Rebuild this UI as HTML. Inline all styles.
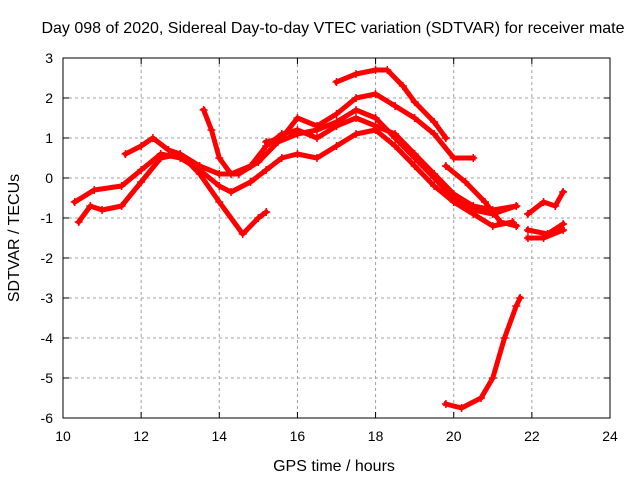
<!DOCTYPE html>
<html><head><meta charset="utf-8"><style>
body{margin:0;background:#fff;}
svg{display:block;font-family:"Liberation Sans",sans-serif;}
</style></head><body>
<svg id="chart" width="640" height="480">
<rect width="640" height="480" fill="#fff"/>
<text x="333" y="33" text-anchor="middle" font-size="16">Day 098 of 2020, Sidereal Day-to-day VTEC variation (SDTVAR) for receiver mate</text>
<text x="334" y="471" text-anchor="middle" font-size="16">GPS time / hours</text>
<text transform="translate(19,238) rotate(-90)" text-anchor="middle" font-size="16">SDTVAR / TECUs</text>
<g id="grid"></g><g id="series"></g>
<rect x="63" y="58" width="547" height="360" fill="none" stroke="#000" stroke-width="1"/>
</svg>
<script>
const xTicks=[10,12,14,16,18,20,22,24];
const yTicks=[3,2,1,0,-1,-2,-3,-4,-5,-6];
const trackA=[[10.4,-1.1],[10.7,-0.7],[11,-0.8],[11.5,-0.7],[12,-0.1],[12.5,0.5],[13,0.6],[13.5,0.1],[14,-0.6],[14.6,-1.4],[15,-1.0],[15.2,-0.85]];
const trackB=[[10.3,-0.6],[10.8,-0.3],[11.5,-0.2],[12,0.2],[12.5,0.6],[13,0.5],[13.5,0.2],[14,-0.2],[14.3,-0.35],[14.8,-0.1],[15.2,0.2],[15.6,0.5],[16,0.6],[16.5,0.5],[17,0.8],[17.5,1.1],[18,1.2],[18.5,0.8],[19,0.3],[19.5,-0.2],[20,-0.6],[20.5,-0.9],[21,-1.2],[21.5,-1.1]];
const trackC=[[11.6,0.6],[12,0.8],[12.3,1.0],[12.7,0.7],[13,0.6],[13.5,0.3],[14,0.1],[14.5,0.1],[15,0.4],[15.5,0.9],[16,1.1],[16.5,1.2],[17,1.4],[17.5,1.7],[18,1.5],[18.5,1.0],[19,0.5],[19.5,0],[20,-0.5],[20.5,-0.8],[21,-0.9],[21.6,-0.7]];
const trackD=[[13.6,1.7],[13.8,1.2],[14,0.5],[14.3,0.1],[14.8,0.3],[15.2,0.8],[15.6,1.1],[16,1.2],[16.5,1.0],[17,1.3],[17.5,1.5],[18,1.3],[18.5,1.1],[19,0.6],[19.5,0.1],[20,-0.4],[20.5,-0.7],[21,-0.8],[21.6,-0.7]];
const trackE=[[15.2,0.9],[15.6,1.0],[16,1.5],[16.5,1.3],[17,1.6],[17.5,2.0],[18,2.1],[18.5,1.8],[19,1.5],[19.5,1.1],[20,0.5],[20.5,0.5]];
const trackF=[[17,2.4],[17.5,2.6],[18,2.7],[18.3,2.7],[18.7,2.3],[19,1.9],[19.5,1.4],[19.8,1.0]];
const trackG=[[19.8,0.3],[20.3,-0.1],[20.8,-0.6],[21.2,-1.1],[21.6,-1.2]];
const trackH=[[21.9,-0.9],[22.3,-0.6],[22.6,-0.7],[22.8,-0.35]];
const trackI=[[21.9,-1.3],[22.4,-1.4],[22.8,-1.15]];
const trackJ=[[21.9,-1.5],[22.3,-1.5],[22.8,-1.3]];
const trackK=[[19.8,-5.65],[20.2,-5.75],[20.7,-5.5],[21,-5.0],[21.3,-4.0],[21.6,-3.2],[21.7,-3.0]];
const tracks=[trackA,trackB,trackC,trackD,trackE,trackF,trackG,trackH,trackI,trackJ,trackK];
const L=63,R=610,T=58,B=418;
const xs=v=>L+(v-10)/14*(R-L);
const ys=v=>T+(3-v)/9*(B-T);
const NS="http://www.w3.org/2000/svg";
const g=document.getElementById('grid'),s=document.getElementById('series');
function mk(tag,attrs,parent){const e=document.createElementNS(NS,tag);for(const k in attrs)e.setAttribute(k,attrs[k]);parent.appendChild(e);return e;}
xTicks.forEach(t=>{const x=xs(t);
 if(t>10&&t<24){const l=mk('line',{x1:x,x2:x,y1:T,y2:B,stroke:'#a0a0a0','stroke-dasharray':'3,3'},g);
 
 }
 mk('line',{x1:x,x2:x,y1:B,y2:B-6,stroke:'#000'},g);mk('line',{x1:x,x2:x,y1:T,y2:T+6,stroke:'#000'},g);
 const tx=mk('text',{x:x,y:B+23,'text-anchor':'middle','font-size':14},g);tx.textContent=t;
 
 });
yTicks.forEach(t=>{const y=ys(t);
 if(t<3&&t>-6){const l=mk('line',{x1:L,x2:R,y1:y,y2:y,stroke:'#a0a0a0','stroke-dasharray':'3,3'},g);
 
 }
 mk('line',{x1:L,x2:L+6,y1:y,y2:y,stroke:'#000'},g);mk('line',{x1:R,x2:R-6,y1:y,y2:y,stroke:'#000'},g);
 const tx=mk('text',{x:L-10,y:y+5,'text-anchor':'end','font-size':14},g);tx.textContent=t;
 
 });
tracks.forEach((tr,i)=>{
 const p=mk('polyline',{points:tr.map(d=>xs(d[0])+','+ys(d[1])).join(' '),fill:'none',stroke:'#ff0000','stroke-width':5,'stroke-linejoin':'round','stroke-linecap':'square'},s);
 
 
 tr.forEach(d=>{const x=xs(d[0]),y=ys(d[1]);
  const m=mk('path',{d:`M${x-4},${y}H${x+4}M${x},${y-4}V${y+4}`,stroke:'#ff0000','stroke-width':1.5},s);
  
  });
});
</script>
</body></html>
